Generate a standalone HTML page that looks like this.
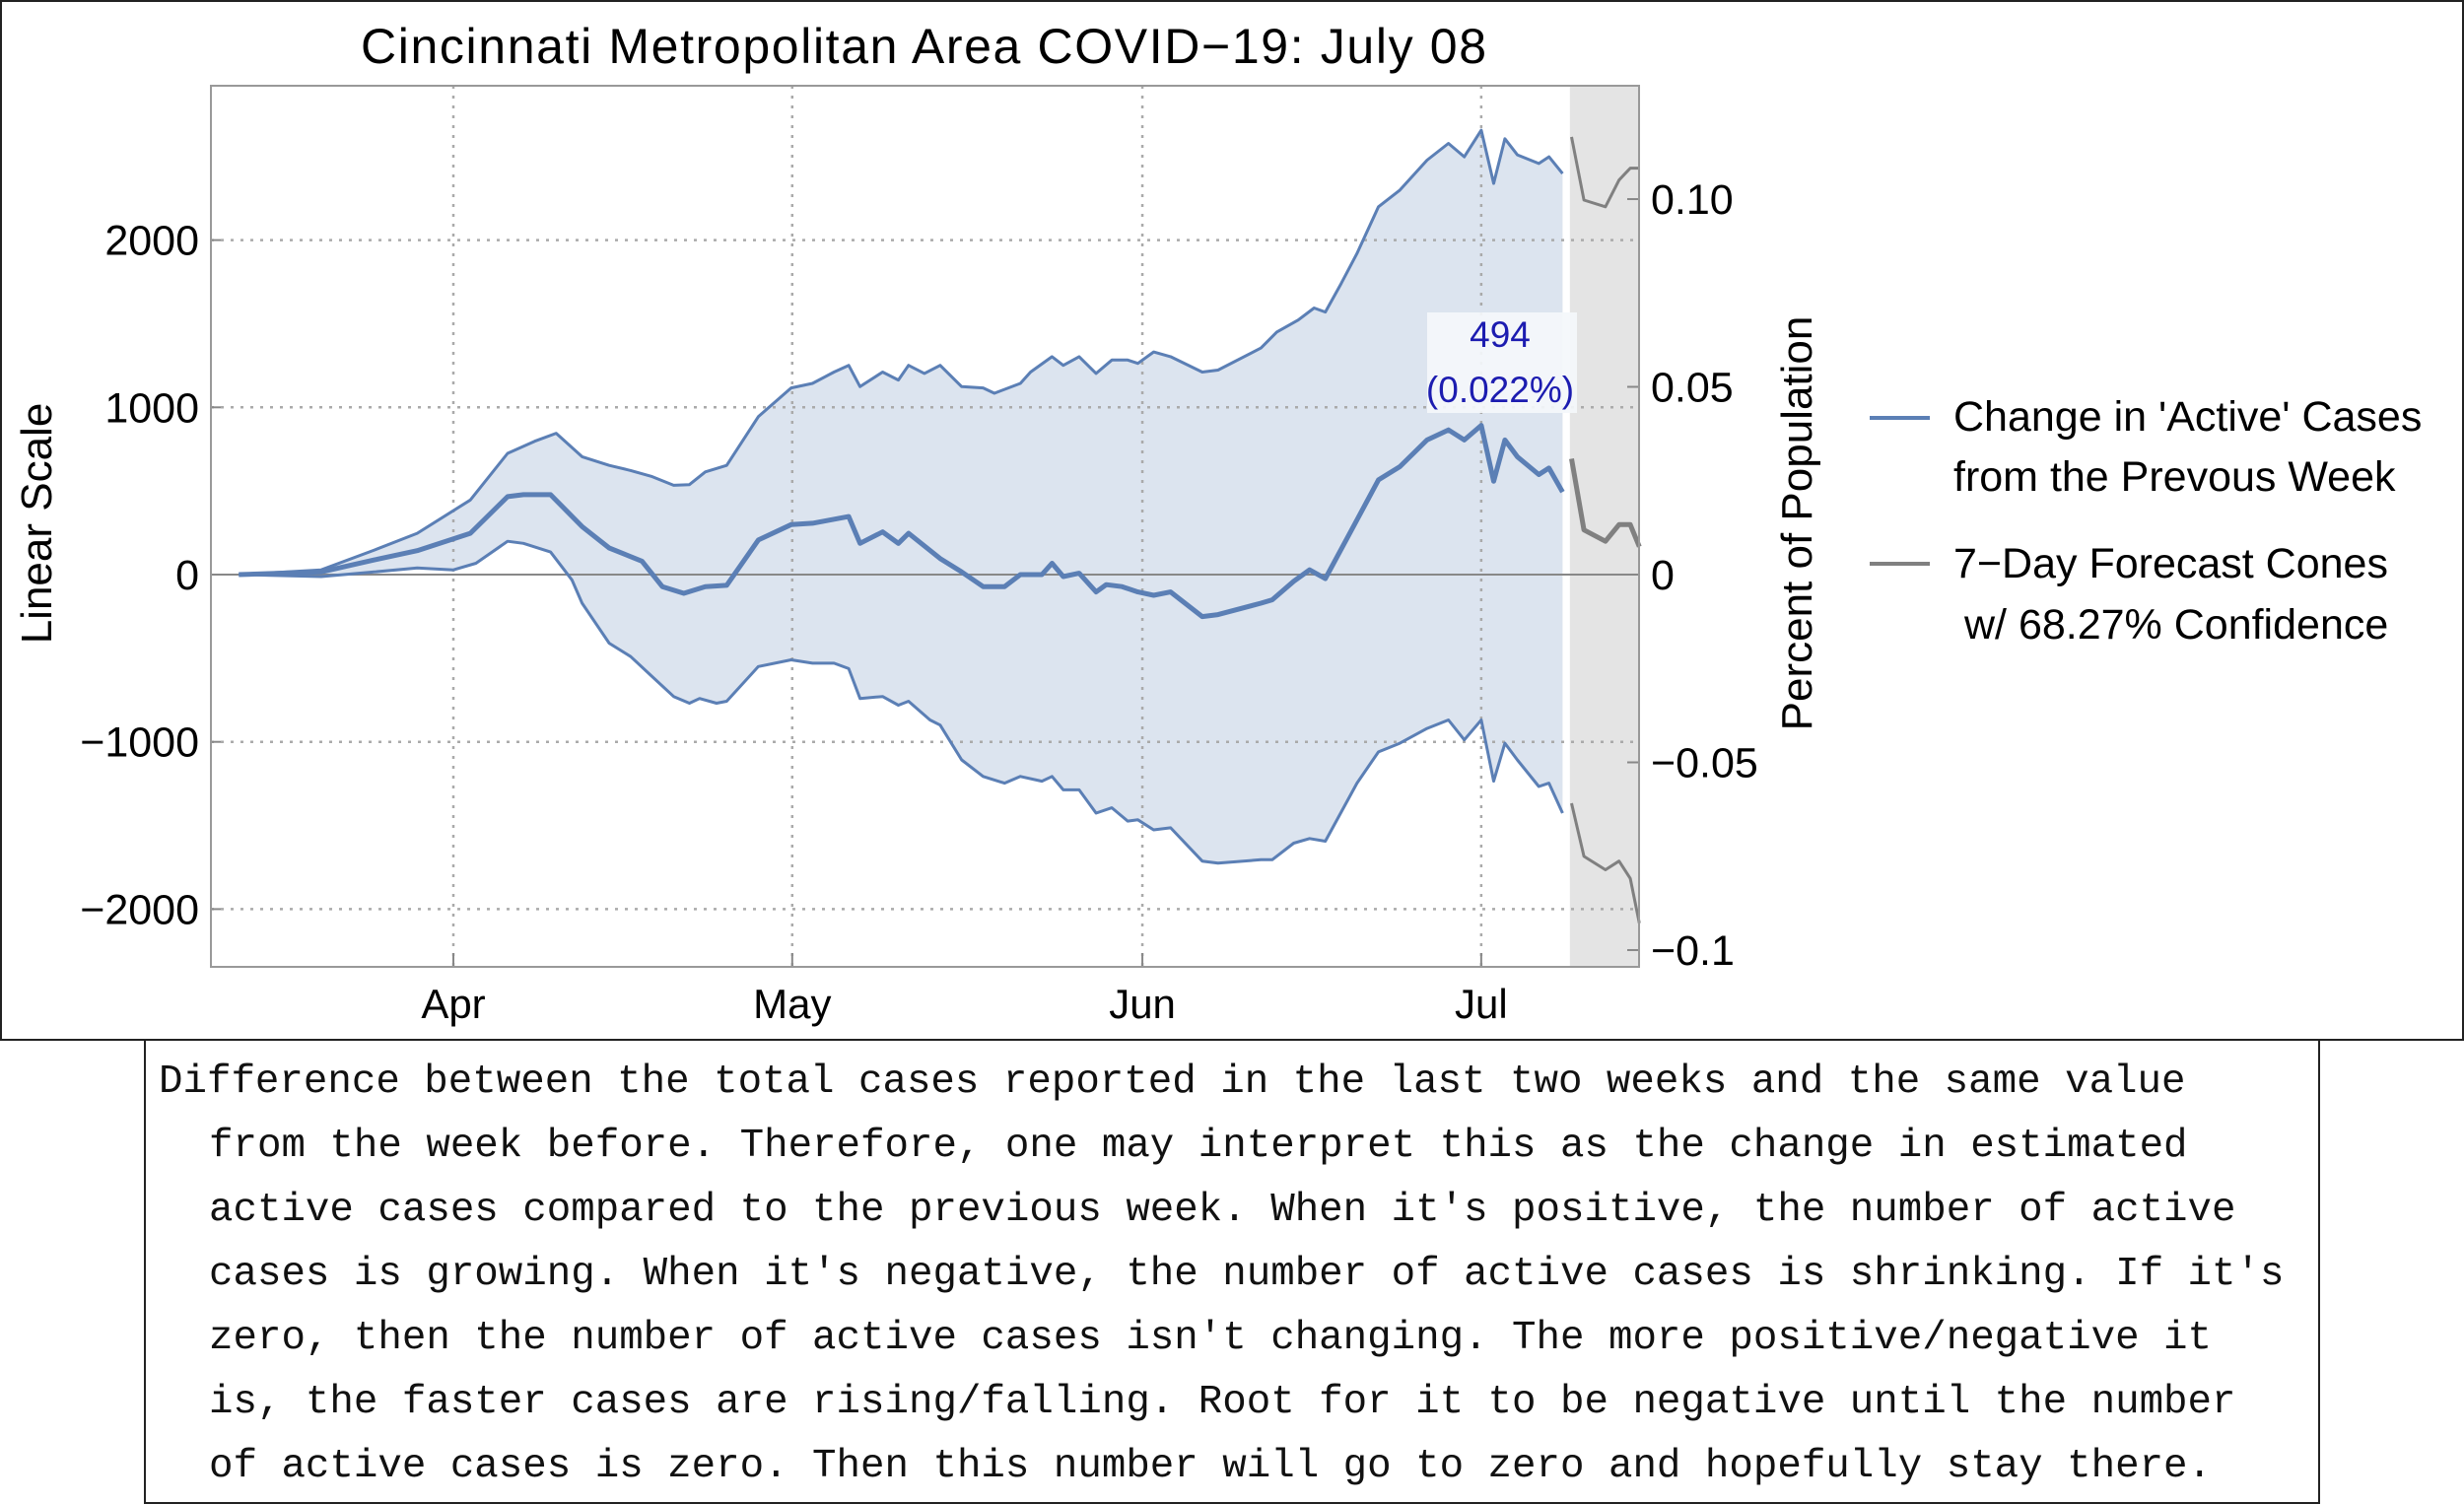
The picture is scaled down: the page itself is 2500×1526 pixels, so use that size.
<!DOCTYPE html>
<html><head><meta charset="utf-8"><style>
html,body{margin:0;padding:0;background:#fff;}
svg{display:block;}
</style></head><body>
<svg id="chart" xmlns="http://www.w3.org/2000/svg" width="2500" height="1526" viewBox="0 0 2500 1526" font-family="Liberation Sans, sans-serif">
<rect x="1" y="1" width="2498" height="1054" fill="#fff" stroke="#222" stroke-width="2"/>
<rect x="147" y="1055" width="2206" height="470" fill="#fff" stroke="#222" stroke-width="2"/>
<text x="937" y="64" font-size="50" text-anchor="middle" textLength="1142">Cincinnati Metropolitan Area COVID−19: July 08</text>
<g id="plot"></g>
<text transform="translate(52,531) rotate(-90)" font-size="44" text-anchor="middle">Linear Scale</text>
<text transform="translate(1838,531) rotate(-90)" font-size="44" text-anchor="middle">Percent of Population</text>
<g>
<line x1="1897" y1="424" x2="1958" y2="424" stroke="#5b7fb5" stroke-width="4"/>
<text x="1982" y="437" font-size="43">Change in 'Active' Cases</text>
<text x="1982" y="498" font-size="43">from the Prevous Week</text>
<line x1="1897" y1="572" x2="1958" y2="572" stroke="#808080" stroke-width="4"/>
<text x="1982" y="586" font-size="43">7−Day Forecast Cones</text>
<text x="1993" y="648" font-size="43">w/ 68.27% Confidence</text>
</g>
<g font-family="Liberation Mono, monospace" font-size="40.8" fill="#111">
<text x="161" y="1108">Difference between the total cases reported in the last two weeks and the same value</text>
<text x="212" y="1173">from the week before. Therefore, one may interpret this as the change in estimated</text>
<text x="212" y="1238">active cases compared to the previous week. When it's positive, the number of active</text>
<text x="212" y="1303">cases is growing. When it's negative, the number of active cases is shrinking. If it's</text>
<text x="212" y="1368">zero, then the number of active cases isn't changing. The more positive/negative it</text>
<text x="212" y="1433">is, the faster cases are rising/falling. Root for it to be negative until the number</text>
<text x="212" y="1498">of active cases is zero. Then this number will go to zero and hopefully stay there.</text>
</g>
</svg>
<script>
// day offsets relative to April 1
const centerDays=[-19,-11.7,-7,-3.2,1.5,4.8,6.2,8.6,11.4,13.8,16.7,18.5,20.4,22.3,24.2,27,29.9,31.8,35,36,38,39.4,40.3,43.1,45,46.9,48.8,50.2,52.1,53,54,55.4,56.9,57.8,59.2,60.6,62,63.5,66.3,67.7,71.5,72.5,74.4,75.8,77.2,80,81.9,83.8,86.2,88.1,89.5,91,92.1,93.1,94.2,96.1,97,98.2];
const centerVals=[0,16,88,143,247,466,478,478,287,159,80,-72,-112,-72,-64,207,299,307,347,187,255,187,247,96,16,-72,-72,0,0,68,-12,8,-104,-60,-72,-104,-124,-104,-251,-239,-171,-151,-40,28,-24,327,566,645,805,865,805,892,558,805,705,598,637,494];
const upperDays=[-19,-11.7,-7,-3.2,1.5,4.8,7.2,9.1,11.4,13.8,15.7,17.6,19.5,20.9,22.3,24.2,27,29.9,31.8,33.7,35,36,38,39.4,40.3,41.7,43.1,45,46.9,47.9,50.2,51.1,53,54,55.4,56.9,58.3,59.7,60.6,62,63.5,66.3,67.7,71.5,72.9,74.8,76.2,77.2,78.6,80,81.9,83.8,86.2,88.1,89.5,91,92.1,93.1,94.2,96.1,97,98.2];
const upperVals=[0,28,147,247,446,725,797,845,705,653,622,586,534,538,614,653,944,1116,1143,1211,1251,1124,1211,1163,1251,1203,1251,1124,1116,1084,1143,1211,1303,1251,1303,1203,1283,1283,1263,1331,1303,1211,1223,1355,1450,1522,1594,1570,1741,1920,2199,2299,2478,2578,2498,2657,2339,2606,2510,2458,2498,2398];
const lowerDays=[-19,-11.7,-7,-3.2,0,2,4.8,6.2,8.6,10.5,11.4,13.8,15.7,17.6,19.5,20.9,21.8,23.3,24.2,27,29.9,31.8,33.7,35,36,38,39.4,40.3,42.2,43.1,45,46.9,48.8,50.2,52.1,53,54,55.4,56.9,58.3,59.7,60.6,62,63.5,66.3,67.7,71.5,72.5,74.4,75.8,77.2,80,81.9,83.8,86.2,88.1,89.5,91,92.1,93.1,94.2,96.1,97,98.2];
const lowerVals=[0,-12,16,40,28,68,199,187,135,-32,-171,-410,-490,-610,-729,-769,-741,-769,-757,-550,-510,-530,-530,-562,-741,-729,-781,-757,-869,-900,-1108,-1207,-1247,-1207,-1235,-1207,-1287,-1287,-1426,-1394,-1474,-1466,-1526,-1514,-1713,-1725,-1705,-1705,-1606,-1578,-1594,-1247,-1060,-1008,-920,-869,-988,-869,-1235,-1008,-1108,-1267,-1247,-1426];
const fcDays=[99,100.1,102,103.2,104.2,105];
const fcUpper=[2617,2239,2199,2359,2430,2430];
const fcMid=[693,267,199,299,299,167];
const fcLower=[-1367,-1685,-1765,-1713,-1817,-2084];
const yTicks=[-2000,-1000,0,1000,2000];
const pctTicks=[-0.1,-0.05,0,0.05,0.1];
const pctLabels=["−0.1","−0.05","0","0.05","0.10"];
const monthDays=[0,30,61,91];
const monthLabels=["Apr","May","Jun","Jul"];
const population=2245000;
const latestValue=494;

const L=214,R=1663,T=87,B=981;
const X=d=>460+d*11.46;
const Y=v=>583-v*0.1697;
const NS="http://www.w3.org/2000/svg";
const plot=document.getElementById('plot');
function mk(tag,attrs,parent){const e=document.createElementNS(NS,tag);for(const k in attrs)e.setAttribute(k,attrs[k]);(parent||plot).appendChild(e);return e;}
const pts=(ds,vs)=>ds.map((d,i)=>X(d).toFixed(1)+','+Y(vs[i]).toFixed(1)).join(' ');

const band=mk('rect',{x:X(98.85),y:T,width:R-X(98.85),height:B-T,fill:'#e4e4e4'});


const fill=mk('polygon',{points:pts(upperDays,upperVals)+' '+pts(lowerDays.slice().reverse(),lowerVals.slice().reverse()),fill:'#dce4ef'});


yTicks.forEach(v=>{
  const g=mk('line',{x1:L,x2:R,y1:Y(v),y2:Y(v),stroke:v===0?'#888':'#aaa','stroke-width':v===0?2:2.5,'stroke-dasharray':v===0?'none':'3 7'});
  
  
  const t=mk('text',{x:L-12,y:Y(v)+15,'font-size':43,'text-anchor':'end'});
  t.textContent=(v<0?'−':'')+Math.abs(v);
  
  
  mk('line',{x1:L,x2:L+10,y1:Y(v),y2:Y(v),stroke:'#888','stroke-width':2});
});
monthDays.forEach((d,i)=>{
  const g=mk('line',{x1:X(d),x2:X(d),y1:T,y2:B,stroke:'#aaa','stroke-width':2.5,'stroke-dasharray':'3 7'});
  
  
  mk('line',{x1:X(d),x2:X(d),y1:B,y2:B-14,stroke:'#888','stroke-width':2});
  const t=mk('text',{x:X(d),y:1033,'font-size':42,'text-anchor':'middle'});
  t.textContent=monthLabels[i];
  
  
});
pctTicks.forEach((p,i)=>{
  const y=Y(p/100*population);
  mk('line',{x1:R,x2:R-12,y1:y,y2:y,stroke:'#888','stroke-width':2});
  const t=mk('text',{x:R+12,y:y+15,'font-size':43});
  t.textContent=pctLabels[i];
  
  
});
[[upperDays,upperVals,3,'upper-bound-line'],[lowerDays,lowerVals,3,'lower-bound-line'],[centerDays,centerVals,5,'active-change-line']].forEach(s=>{
  const l=mk('polyline',{points:pts(s[0],s[1]),fill:'none',stroke:'#5b7fb5','stroke-width':s[2],'stroke-linejoin':'round'});
  
  
});
[[fcUpper,3,'forecast-upper-line'],[fcMid,5,'forecast-mid-line'],[fcLower,3,'forecast-lower-line']].forEach(s=>{
  const l=mk('polyline',{points:pts(fcDays,s[0]),fill:'none',stroke:'#808080','stroke-width':s[1],'stroke-linejoin':'round'});
  
  
});
const ab=mk('rect',{x:1448,y:317,width:152,height:102,fill:'#f4f7fb','fill-opacity':0.92});


const a1=mk('text',{x:1522,y:352,'font-size':37,'text-anchor':'middle',fill:'#1c1cb0'});
a1.textContent=String(latestValue);


const a2=mk('text',{x:1522,y:408,'font-size':37,'text-anchor':'middle',fill:'#1c1cb0'});
a2.textContent='('+(latestValue/population*100).toFixed(3)+'%)';


const fr=mk('rect',{x:L,y:T,width:R-L,height:B-T,fill:'none',stroke:'#999','stroke-width':2});


</script>
</body></html>
